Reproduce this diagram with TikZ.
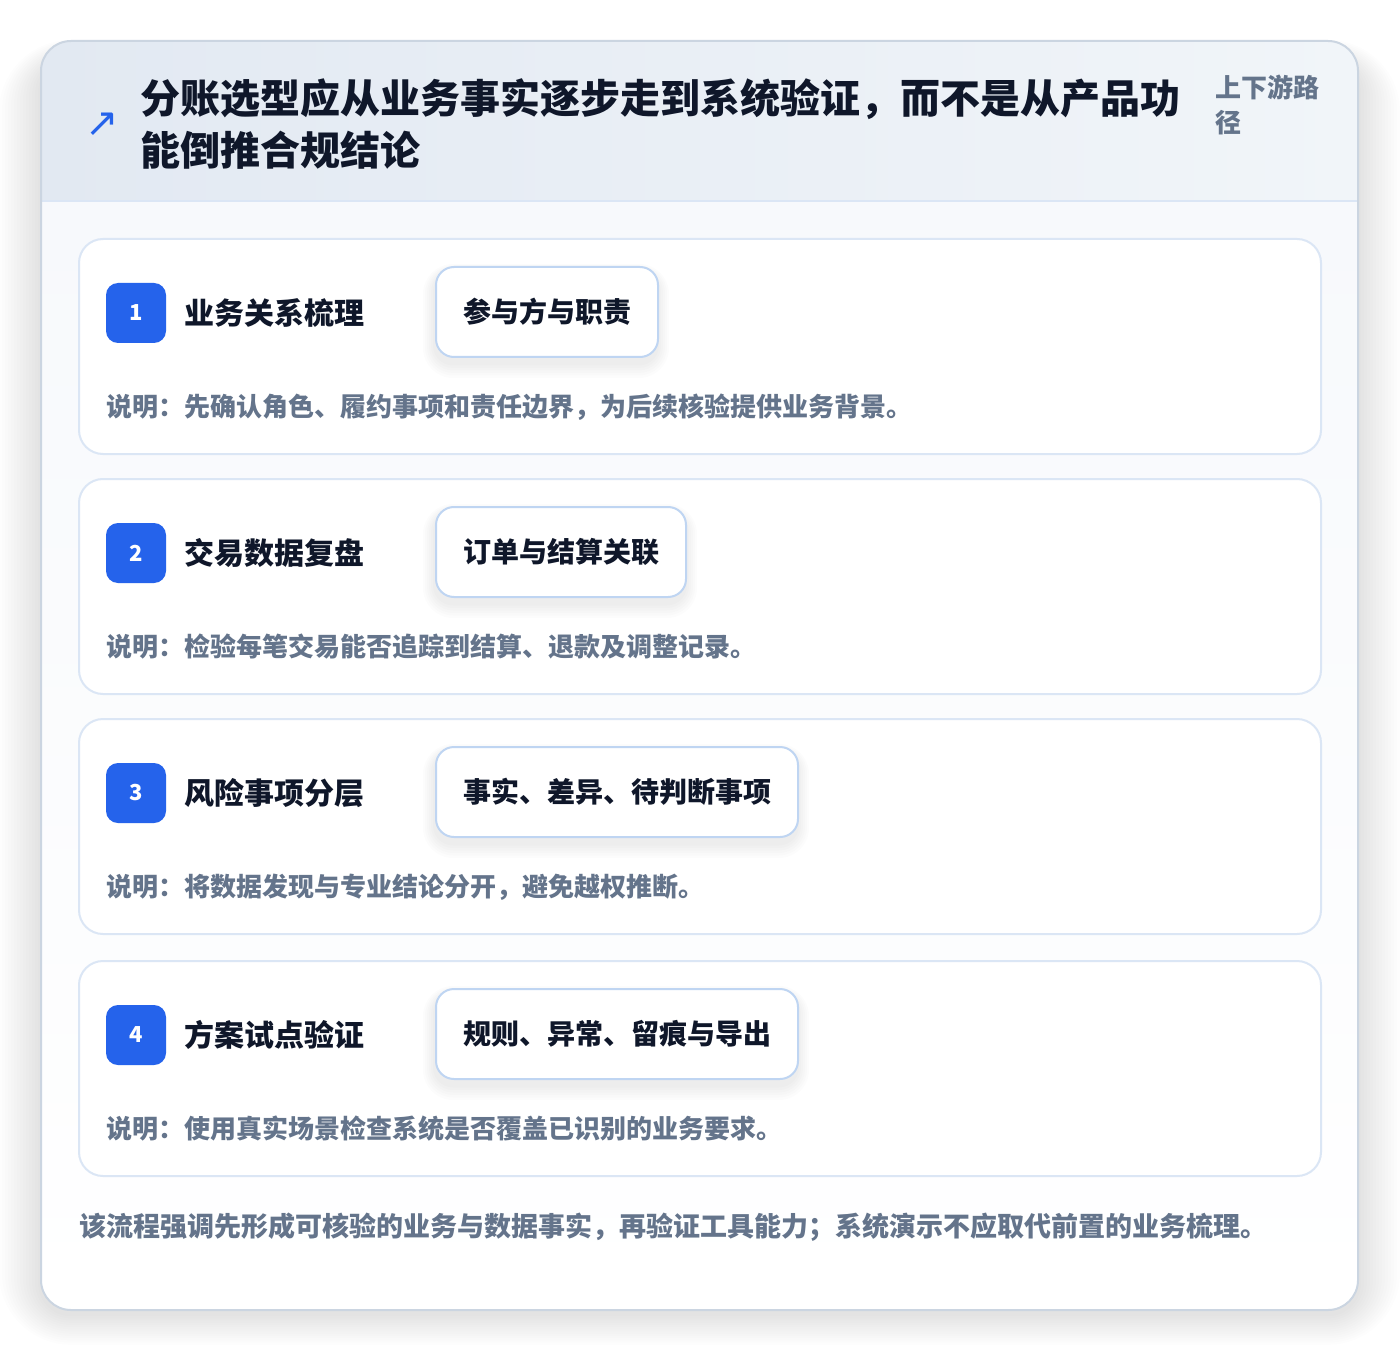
\documentclass[tikz,border=0pt]{standalone}
\usepackage{fontspec}
\setmainfont{Noto Sans CJK SC}
\newfontfamily\symfont{DejaVu Sans}
\definecolor{ink}{HTML}{0F172A}
\definecolor{muted}{HTML}{64748B}
\definecolor{brand}{HTML}{2563EB}
\definecolor{cardline}{HTML}{DBE6F5}
\definecolor{tagline}{HTML}{BFD5F2}
\definecolor{outline}{HTML}{CBD5E1}
\definecolor{headA}{HTML}{E2E9F2}
\definecolor{headB}{HTML}{F1F5F9}
\definecolor{bodyA}{HTML}{F7F9FC}
\begin{document}
\begin{tikzpicture}[x=0.5pt,y=-0.5pt,
  outercard/.style={draw=outline, line width=1pt, rounded corners=15pt},
  stepcard/.style={draw=cardline, line width=1pt, fill=white, rounded corners=12pt},
  badge/.style={fill=brand, rounded corners=6pt, minimum width=30pt, minimum height=30pt, inner sep=0pt, text=white, font=\bfseries\fontsize{11}{13}\selectfont},
  steptitle/.style={anchor=west, inner sep=0pt, text=ink, font=\bfseries\fontsize{15}{18}\selectfont},
  tagbox/.style={anchor=west, draw=tagline, line width=1pt, fill=white, rounded corners=9pt, minimum height=45pt, inner xsep=13.5pt, inner ysep=0pt, text=ink, font=\bfseries\fontsize{14}{17}\selectfont},
  desc/.style={anchor=west, inner sep=0pt, text=muted, font=\bfseries\fontsize{13}{15}\selectfont},
  titletext/.style={anchor=west, inner sep=0pt, align=left, text=ink, font=\bfseries\fontsize{20}{26}\selectfont},
  sidetext/.style={anchor=west, inner sep=0pt, align=left, text=muted, font=\bfseries\fontsize{13}{17.5}\selectfont},
  foottext/.style={anchor=west, inner sep=0pt, text=muted, font=\bfseries\fontsize{13.5}{16}\selectfont},
  softshade/.style={fill=black, fill opacity=#1}
]
\useasboundingbox (0,0) rectangle (1400,1352);
\fill[white] (0,0) rectangle (1400,1352);
% outer card soft shadow
\foreach \k in {1,...,14}{
  \fill[softshade=0.007, rounded corners=15pt+1.5pt*\k] (41-3*\k,61-1.5*\k) rectangle (1358+3*\k,1314+2.2*\k);
}
\fill[white, rounded corners=15pt] (41,41) rectangle (1358,1310);
\begin{scope}
  \clip[rounded corners=15pt] (41,41) rectangle (1358,1310);
  \shade[top color=bodyA, bottom color=white] (41,201) rectangle (1358,1310);
  \shade[left color=headA, right color=headB] (41,41) rectangle (1358,201);
  \draw[cardline, line width=1pt] (41,201) -- (1358,201);
\end{scope}
\path[outercard] (41,41) rectangle (1358,1310);
% header
\node[text=brand, inner sep=0pt, font=\symfont\fontsize{20}{20}\selectfont] (icon) at (102,125) {↗};
\node[titletext] (title) at (140,124) {分账选型应从业务事实逐步走到系统验证，而不是从产品功\\能倒推合规结论};
\node[sidetext] (side) at (1215,105) {上下游路\\径};
% steps
\foreach \i/\t/\ttl/\tg/\w/\d in {
  1/239/业务关系梳理/参与方与职责/222/说明：先确认角色、履约事项和责任边界，为后续核验提供业务背景。,
  2/479/交易数据复盘/订单与结算关联/250/说明：检验每笔交易能否追踪到结算、退款及调整记录。,
  3/719/风险事项分层/事实、差异、待判断事项/362/说明：将数据发现与专业结论分开，避免越权推断。,
  4/961/方案试点验证/规则、异常、留痕与导出/362/说明：使用真实场景检查系统是否覆盖已识别的业务要求。}{
  \path[stepcard] (79,\t) rectangle (1321,\t+215);
  \foreach \k in {1,...,6}{
    \fill[softshade=0.010, rounded corners=9pt+1pt*\k] (435-2*\k,\t+34-1.5*\k) rectangle (435+\w+2*\k,\t+124+2.5*\k);
  }
  \node[badge] (badge\i) at (136,\t+74) {\i};
  \node[steptitle] (steptitle\i) at (184,\t+74) {\ttl};
  \node[tagbox] (tag\i) at (435,\t+73) {\tg};
  \node[desc] (desc\i) at (106,\t+168) {\d};
}
\node[foottext] (foot) at (79,1227) {该流程强调先形成可核验的业务与数据事实，再验证工具能力；系统演示不应取代前置的业务梳理。};
\end{tikzpicture}
\end{document}
